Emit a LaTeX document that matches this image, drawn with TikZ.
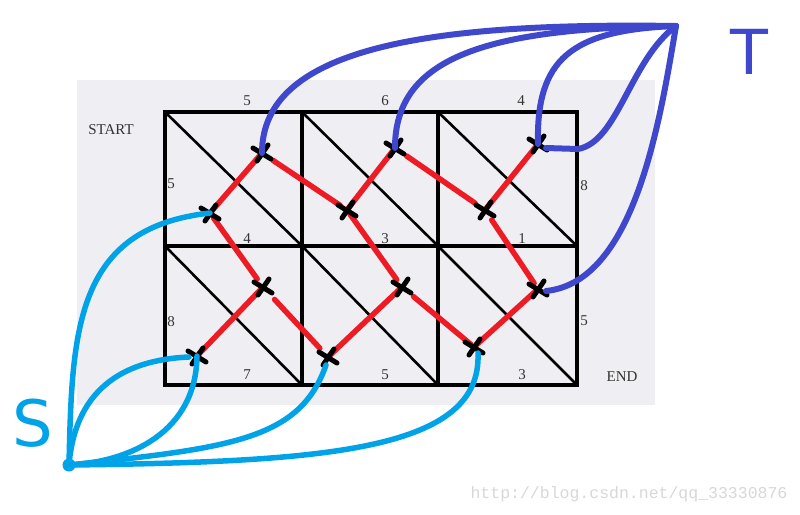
\documentclass[tikz,border=0pt]{standalone}
\usepackage{fontspec}
\newfontfamily\wmfont{Liberation Mono}
\newfontfamily\handfont{DejaVu Sans}
\newfontfamily\labfont{Liberation Serif}
\definecolor{pred}{HTML}{ED1C24}
\definecolor{pblue}{HTML}{3F48CC}
\definecolor{plblue}{HTML}{00A2E8}
\definecolor{bggray}{HTML}{EFEFF3}
\definecolor{wmgray}{HTML}{D8D8D8}
\begin{document}
\begin{tikzpicture}[x=1pt,y=-1pt,
  gridline/.style={line width=4pt,line cap=rect},
  diagline/.style={line width=2.6pt},
  redseg/.style={line width=5.5pt,draw=pred,line cap=round},
  tcurve/.style={line width=6pt,draw=pblue,line cap=round},
  scurve/.style={line width=5.5pt,draw=plblue,line cap=round},
  crossline/.style={line width=5pt,line cap=round},
  lab/.style={font=\labfont\fontsize{15}{15}\selectfont,text=black!80,inner sep=0pt}]
\useasboundingbox[fill=white] (0,0) rectangle (800,514);
\fill[bggray] (77,80) rectangle (655,405);
% grid
\draw[gridline] (165,112) rectangle (577,385);
\draw[gridline] (302,112) -- (302,385);
\draw[gridline] (438,112) -- (438,385);
\draw[gridline] (165,246) -- (577,246);
\foreach \xa/\xb in {165/302,302/438,438/577}{
  \draw[diagline] (\xa,112) -- (\xb,246);
  \draw[diagline] (\xa,246) -- (\xb,385);
}
% labels
\node[lab] (t1) at (247,101) {5};
\node[lab] (t2) at (385,101) {6};
\node[lab] (t3) at (521,101) {4};
\node[lab] (l1) at (171,184) {5};
\node[lab] (l2) at (171,322) {8};
\node[lab] (r1) at (584,186) {8};
\node[lab] (r2) at (584,321) {5};
\node[lab] (m1) at (247,239) {4};
\node[lab] (m2) at (385,239) {3};
\node[lab] (m3) at (522,239) {1};
\node[lab] (b1) at (247,375) {7};
\node[lab] (b2) at (385,375) {5};
\node[lab] (b3) at (522,375) {3};
\node[lab] (start) at (111,130) {START};
\node[lab] (end) at (622,377) {END};
% points
\coordinate (a1) at (262,153);
\coordinate (a2) at (395,148);
\coordinate (a3) at (538,144);
\coordinate (p1) at (210,213);
\coordinate (p2) at (347,210);
\coordinate (p3) at (485,210);
\coordinate (c1) at (263,287);
\coordinate (c2) at (402,287);
\coordinate (c3) at (538,289);
\coordinate (d1) at (197,356);
\coordinate (d2) at (328,357);
\coordinate (d3) at (474,347);
\coordinate (T) at (676,26);
\coordinate (S) at (69,465);
% red segments
\draw[redseg] (p1) -- (a1);
\draw[redseg,shorten <=13pt,shorten >=8pt] (a1) -- (p2);
\draw[redseg] (p2) -- (a2);
\draw[redseg,shorten <=14pt,shorten >=12pt] (a2) -- (p3);
\draw[redseg] (p3) -- (a3);
\draw[redseg,shorten <=6pt,shorten >=10pt] (p1) -- (c1);
\draw[redseg] (c1) -- (d1);
\draw[redseg,shorten <=17pt,shorten >=12pt] (c1) -- (d2);
\draw[redseg] (d2) -- (c2);
\draw[redseg,shorten <=5pt,shorten >=9pt] (p2) -- (c2);
\draw[redseg,shorten <=15pt,shorten >=4pt] (c2) -- (d3);
\draw[redseg] (d3) -- (c3);
\draw[redseg,shorten <=12pt,shorten >=7pt] (p3) -- (c3);
% crosses
\foreach \n in {a1,a2,a3,p1,p2,p3,c1,c2,c3,d1,d2,d3}{
  \draw[crossline] ([shift={(-9,-5)}]\n) -- ([shift={(9,6)}]\n);
  \draw[crossline] ([shift={(-5,8)}]\n) -- ([shift={(6,-8)}]\n);
}
% T curves
\draw[tcurve] (a1) .. controls (262,50) and (420,22) .. (T);
\draw[tcurve] (a2) .. controls (395,60) and (480,28) .. (T);
\draw[tcurve] (a3) .. controls (536,60) and (570,30) .. (T);
\draw[tcurve] ([shift={(8,4)}]a3) -- (578,149) .. controls (618,142) and (630,60) .. (T);
\draw[tcurve] ([shift={(8,2)}]c3) .. controls (635,282) and (660,120) .. (T);
\node[font=\handfont\fontsize{62}{62}\selectfont,text=pblue,inner sep=0pt] (Tlab) at (749,52) {T};
% S curves
\fill[plblue] (S) circle (6.5);
\draw[scurve] (S) .. controls (72,330) and (75,228) .. (p1);
\draw[scurve] (S) .. controls (75,392) and (120,360) .. ([shift={(-8,1)}]d1);
\draw[scurve] (d1) .. controls (196,432) and (130,462) .. (S);
\draw[scurve] ([shift={(-2,8)}]d2) .. controls (300,440) and (230,448) .. (S);
\draw[scurve] ([shift={(4,6)}]d3) .. controls (482,450) and (330,462) .. (S);
\node[font=\handfont\fontsize{64}{64}\selectfont,text=plblue,inner sep=0pt] (Slab) at (33,423) {S};
% watermark
\node[font=\wmfont\fontsize{16.5}{16.5}\selectfont,text=wmgray,inner sep=0pt] (wm) at (629,494) {http://blog.csdn.net/qq\_33330876};
\end{tikzpicture}
\end{document}
